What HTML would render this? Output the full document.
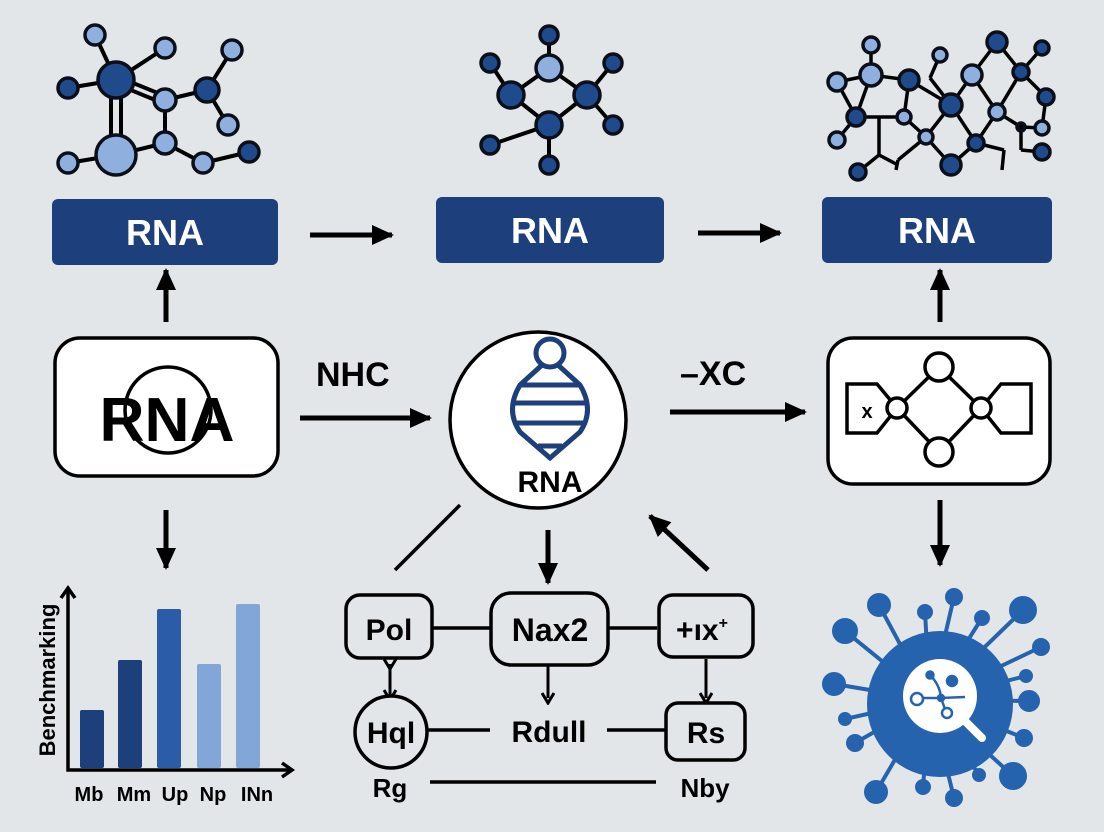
<!DOCTYPE html>
<html><head><meta charset="utf-8"><style>
html,body{margin:0;padding:0;background:#e3e6e9;}
svg{display:block;font-family:"Liberation Sans","DejaVu Sans",sans-serif;}
</style></head><body>
<svg width="1104" height="832" viewBox="0 0 1104 832" xmlns="http://www.w3.org/2000/svg">
<defs>
<marker id="ah" markerWidth="22" markerHeight="22" refX="20" refY="11" orient="auto" markerUnits="userSpaceOnUse" viewBox="0 0 22 22">
<path d="M0,1 L22,11 L0,21 z" fill="#000"/></marker>
<marker id="ah2" markerWidth="14" markerHeight="14" refX="7" refY="7" orient="auto" markerUnits="userSpaceOnUse" viewBox="0 0 14 14">
<path d="M2,1 L12,7 L2,13" fill="none" stroke="#000" stroke-width="3"/></marker>
</defs>
<rect width="1104" height="832" fill="#e3e6e9"/>

<!-- Left molecule -->
<g stroke="#000" stroke-width="4" fill="none">
<line x1="95" y1="35" x2="116" y2="80"/><line x1="165" y1="48" x2="116" y2="80"/><line x1="68" y1="88" x2="116" y2="80"/>
<line x1="116" y1="76" x2="165" y2="96"/><line x1="116" y1="84" x2="165" y2="104"/>
<line x1="111" y1="80" x2="111" y2="155"/><line x1="121" y1="80" x2="121" y2="155"/>
<line x1="165" y1="100" x2="207" y2="90"/><line x1="207" y1="90" x2="232" y2="50"/><line x1="207" y1="90" x2="228" y2="125"/>
<line x1="165" y1="100" x2="165" y2="143"/><line x1="165" y1="143" x2="116" y2="155"/><line x1="116" y1="155" x2="68" y2="163"/>
<line x1="165" y1="143" x2="203" y2="163"/><line x1="203" y1="163" x2="249" y2="152"/>
</g>
<g stroke="#0a0f1a" stroke-width="3.5">
<circle cx="95" cy="35" r="10" fill="#8fb0df"/><circle cx="165" cy="48" r="10" fill="#8fb0df"/><circle cx="232" cy="50" r="10" fill="#8fb0df"/>
<circle cx="116" cy="80" r="18" fill="#1f4a8c"/><circle cx="68" cy="88" r="10" fill="#1f4a8c"/>
<circle cx="165" cy="100" r="11" fill="#8fb0df"/><circle cx="207" cy="90" r="12" fill="#1f4a8c"/>
<circle cx="228" cy="125" r="10" fill="#8fb0df"/><circle cx="165" cy="143" r="11" fill="#8fb0df"/>
<circle cx="116" cy="155" r="20" fill="#8fb0df"/><circle cx="68" cy="163" r="10" fill="#8fb0df"/>
<circle cx="203" cy="163" r="10" fill="#8fb0df"/><circle cx="249" cy="152" r="10" fill="#1f4a8c"/>
</g>

<!-- Middle molecule -->
<g stroke="#000" stroke-width="4">
<line x1="549" y1="35" x2="549" y2="68"/><line x1="549" y1="68" x2="511" y2="95"/><line x1="549" y1="68" x2="587" y2="95"/>
<line x1="490" y1="63" x2="511" y2="95"/><line x1="613" y1="63" x2="587" y2="95"/><line x1="511" y1="95" x2="549" y2="125"/>
<line x1="587" y1="95" x2="549" y2="125"/><line x1="587" y1="95" x2="613" y2="125"/><line x1="549" y1="125" x2="490" y2="145"/>
<line x1="549" y1="125" x2="549" y2="165"/>
</g>
<g stroke="#0a0f1a" stroke-width="3.5" fill="#1f4a8c">
<circle cx="549" cy="35" r="9"/><circle cx="549" cy="68" r="13" fill="#8fb0df"/><circle cx="490" cy="63" r="9"/>
<circle cx="613" cy="63" r="9"/><circle cx="511" cy="95" r="13"/><circle cx="587" cy="95" r="13"/>
<circle cx="549" cy="125" r="13"/><circle cx="613" cy="125" r="9"/><circle cx="490" cy="145" r="9"/><circle cx="549" cy="165" r="9"/>
</g>

<!-- Right molecule -->
<g stroke="#000" stroke-width="3.5">
<line x1="871" y1="45" x2="871" y2="75"/><line x1="837" y1="82" x2="871" y2="75"/><line x1="871" y1="75" x2="909" y2="80"/>
<line x1="940" y1="55" x2="930" y2="78"/><line x1="909" y1="80" x2="951" y2="105"/><line x1="909" y1="80" x2="904" y2="117"/>
<line x1="930" y1="78" x2="951" y2="105"/><line x1="951" y1="105" x2="972" y2="75"/><line x1="972" y1="75" x2="997" y2="42"/>
<line x1="997" y1="42" x2="1021" y2="72"/><line x1="1021" y1="72" x2="1042" y2="48"/><line x1="1021" y1="72" x2="1046" y2="97"/>
<line x1="972" y1="75" x2="997" y2="112"/><line x1="1021" y1="72" x2="997" y2="112"/><line x1="1046" y1="97" x2="1042" y2="128"/>
<line x1="837" y1="82" x2="856" y2="117"/><line x1="871" y1="75" x2="856" y2="117"/><line x1="856" y1="117" x2="904" y2="117"/>
<line x1="856" y1="117" x2="837" y2="140"/><line x1="879" y1="117" x2="879" y2="155"/><line x1="879" y1="155" x2="858" y2="172"/>
<line x1="879" y1="155" x2="898" y2="165"/><line x1="904" y1="117" x2="926" y2="137"/><line x1="951" y1="105" x2="926" y2="137"/>
<line x1="926" y1="137" x2="951" y2="165"/><line x1="951" y1="105" x2="976" y2="143"/><line x1="997" y1="112" x2="976" y2="143"/>
<line x1="997" y1="112" x2="1021" y2="127"/><line x1="976" y1="143" x2="1004" y2="150"/><line x1="976" y1="143" x2="951" y2="165"/>
<line x1="1021" y1="127" x2="1021" y2="150"/><line x1="1021" y1="150" x2="1042" y2="152"/><line x1="1004" y1="150" x2="1002" y2="170"/>
<line x1="1021" y1="127" x2="1042" y2="128"/><line x1="926" y1="137" x2="898" y2="160"/><line x1="898" y1="160" x2="896" y2="170"/>
</g>
<g stroke="#0a0f1a" stroke-width="3.5" fill="#1f4a8c">
<circle cx="871" cy="45" r="8" fill="#8fb0df"/><circle cx="940" cy="55" r="7" fill="#8fb0df"/><circle cx="997" cy="42" r="10"/>
<circle cx="1042" cy="48" r="7"/><circle cx="837" cy="82" r="9" fill="#8fb0df"/><circle cx="871" cy="75" r="11" fill="#8fb0df"/>
<circle cx="909" cy="80" r="10"/><circle cx="972" cy="75" r="10" fill="#8fb0df"/><circle cx="1021" cy="72" r="8"/>
<circle cx="856" cy="117" r="9"/><circle cx="904" cy="117" r="7" fill="#8fb0df"/><circle cx="951" cy="105" r="11"/>
<circle cx="997" cy="112" r="8" fill="#8fb0df"/><circle cx="1046" cy="97" r="8"/><circle cx="837" cy="140" r="8" fill="#8fb0df"/>
<circle cx="926" cy="137" r="7" fill="#8fb0df"/><circle cx="976" cy="143" r="8"/><circle cx="1021" cy="127" r="4" fill="#000"/>
<circle cx="1042" cy="128" r="7" fill="#8fb0df"/><circle cx="1042" cy="152" r="8"/><circle cx="951" cy="165" r="10"/>
<circle cx="858" cy="172" r="8"/>
</g>

<!-- Top RNA boxes -->
<rect x="52" y="199" width="226" height="66" rx="6" fill="#1d3f7c"/>
<text x="165" y="245" font-size="36" font-weight="bold" fill="#fff" text-anchor="middle">RNA</text>
<rect x="436" y="197" width="228" height="66" rx="6" fill="#1d3f7c"/>
<text x="550" y="243" font-size="36" font-weight="bold" fill="#fff" text-anchor="middle">RNA</text>
<rect x="822" y="197" width="230" height="66" rx="6" fill="#1d3f7c"/>
<text x="937" y="243" font-size="36" font-weight="bold" fill="#fff" text-anchor="middle">RNA</text>

<g stroke="#000" stroke-width="5" marker-end="url(#ah)">
<line x1="310" y1="235" x2="392" y2="235"/>
<line x1="698" y1="233" x2="780" y2="233"/>
<line x1="166" y1="322" x2="166" y2="270"/>
<line x1="940" y1="322" x2="940" y2="270"/>
<line x1="300" y1="418" x2="430" y2="418"/>
<line x1="670" y1="412" x2="805" y2="412"/>
<line x1="166" y1="510" x2="166" y2="568"/>
<line x1="940" y1="500" x2="940" y2="565"/>
<line x1="548" y1="530" x2="548" y2="583"/>
<line x1="708" y1="570" x2="650" y2="516"/>
</g>

<!-- Mid-left box -->
<rect x="55" y="338" width="223" height="138" rx="25" fill="#fff" stroke="#000" stroke-width="3.5"/>
<circle cx="168" cy="410" r="43" fill="none" stroke="#000" stroke-width="3.5"/>
<text x="167" y="441" font-size="62" font-weight="bold" text-anchor="middle" textLength="135" lengthAdjust="spacingAndGlyphs">RNA</text>

<text x="316" y="386" font-size="34" font-weight="bold">NHC</text>
<text x="680" y="385" font-size="34" font-weight="bold">–XC</text>

<!-- Center circle -->
<circle cx="538" cy="420" r="88" fill="#fff" stroke="#000" stroke-width="3.5"/>
<g stroke="#1d3f7c" stroke-width="5" fill="none">
<circle cx="550" cy="353" r="14"/>
<path d="M542,365 L520,385 Q505,410 520,432 L550,458 L580,432 Q595,410 580,385 L558,365"/>
<line x1="520" y1="385" x2="580" y2="385"/>
<line x1="515" y1="403" x2="585" y2="403"/>
<line x1="517" y1="423" x2="583" y2="423"/>
<line x1="538" y1="446" x2="562" y2="446"/>
</g>
<text x="550" y="492" font-size="30" font-weight="bold" text-anchor="middle">RNA</text>

<!-- Mid-right box -->
<rect x="828" y="338" width="222" height="146" rx="25" fill="#fff" stroke="#000" stroke-width="3.5"/>
<g stroke="#000" stroke-width="3.5" fill="#fff">
<path d="M847,384 L877,384 L897,408 L877,433 L847,433 z"/>
<path d="M1031,384 L1001,384 L981,408 L1001,433 L1031,433 z"/>
<line x1="897" y1="408" x2="939" y2="367"/><line x1="939" y1="367" x2="981" y2="408"/>
<line x1="897" y1="408" x2="939" y2="452"/><line x1="939" y1="452" x2="981" y2="408"/>
<circle cx="939" cy="367" r="14"/><circle cx="939" cy="452" r="14"/>
<circle cx="897" cy="408" r="10"/><circle cx="981" cy="408" r="10"/>
</g>
<text x="867" y="418" font-size="20" font-weight="bold" text-anchor="middle">x</text>

<!-- Bottom middle network -->
<g stroke="#000" stroke-width="3.5" fill="none">
<line x1="460" y1="505" x2="395" y2="570"/>
<line x1="432" y1="628" x2="490" y2="628"/>
<line x1="608" y1="628" x2="657" y2="628"/>
<line x1="428" y1="730" x2="490" y2="730"/>
<line x1="607" y1="730" x2="666" y2="730"/>
<line x1="430" y1="782" x2="656" y2="782"/>
</g>
<g stroke="#000" stroke-width="3" fill="none">
<line x1="390" y1="664" x2="390" y2="695" marker-end="url(#ah2)" marker-start="url(#ah2)"/>
<line x1="548" y1="666" x2="548" y2="698" marker-end="url(#ah2)"/>
<line x1="706" y1="659" x2="706" y2="698" marker-end="url(#ah2)"/>
</g>
<g fill="#e3e6e9" stroke="#000" stroke-width="3.5">
<rect x="346" y="595" width="86" height="63" rx="14"/>
<rect x="491" y="593" width="117" height="72" rx="20"/>
<rect x="659" y="595" width="94" height="62" rx="14"/>
<circle cx="391" cy="732" r="36"/>
<rect x="666" y="703" width="79" height="57" rx="12"/>
</g>
<g font-weight="bold" text-anchor="middle" fill="#000">
<text x="389" y="640" font-size="30">Pol</text>
<text x="550" y="641" font-size="32">Nax2</text>
<text x="702" y="640" font-size="30">+ıx<tspan font-size="16" dy="-12">+</tspan></text>
<text x="391" y="743" font-size="30">Hql</text>
<text x="549" y="742" font-size="30">Rdull</text>
<text x="706" y="743" font-size="30">Rs</text>
<text x="390" y="797" font-size="26">Rg</text>
<text x="705" y="797" font-size="26">Nby</text>
</g>

<!-- Chart -->
<rect x="80" y="710" width="24" height="58" rx="2" fill="#1d3f7c"/>
<rect x="118" y="660" width="24" height="108" rx="2" fill="#1d3f7c"/>
<rect x="157" y="609" width="24" height="159" rx="2" fill="#2a5ca8"/>
<rect x="197" y="664" width="24" height="104" rx="2" fill="#82a6d8"/>
<rect x="236" y="604" width="24" height="164" rx="2" fill="#82a6d8"/>
<g stroke="#000" stroke-width="3.5" fill="none">
<polyline points="68,590 68,770 290,770"/>
<polyline points="61,598 68,588 75,598"/>
<polyline points="282,763 292,770 282,777"/>
</g>
<text transform="translate(55,680) rotate(-90)" font-size="22" font-weight="bold" text-anchor="middle">Benchmarking</text>
<g font-size="20" font-weight="bold" text-anchor="middle">
<text x="89" y="801">Mb</text><text x="134" y="801">Mm</text><text x="175" y="801">Up</text>
<text x="213" y="801">Np</text><text x="257" y="801">INn</text>
</g>

<!-- Virus -->
<g stroke="#2563ae" stroke-width="4" fill="#2563ae">
<line x1="930" y1="700" x2="879" y2="605"/><circle cx="879" cy="605" r="10"/>
<line x1="930" y1="700" x2="845" y2="631"/><circle cx="845" cy="631" r="11"/>
<line x1="930" y1="700" x2="925" y2="612"/><circle cx="925" cy="612" r="6"/>
<line x1="930" y1="700" x2="954" y2="597"/><circle cx="954" cy="597" r="7"/>
<line x1="930" y1="700" x2="982" y2="618"/><circle cx="982" cy="618" r="6"/>
<line x1="930" y1="700" x2="1023" y2="610"/><circle cx="1023" cy="610" r="12"/>
<line x1="930" y1="700" x2="1041" y2="647"/><circle cx="1041" cy="647" r="7"/>
<line x1="930" y1="700" x2="1026" y2="676"/><circle cx="1026" cy="676" r="5"/>
<line x1="930" y1="700" x2="1029" y2="701"/><circle cx="1029" cy="701" r="9"/>
<line x1="930" y1="700" x2="1024" y2="738"/><circle cx="1024" cy="738" r="7"/>
<line x1="930" y1="700" x2="1013" y2="776"/><circle cx="1013" cy="776" r="12"/>
<line x1="930" y1="700" x2="979" y2="775"/><circle cx="979" cy="775" r="5"/>
<line x1="930" y1="700" x2="954" y2="798"/><circle cx="954" cy="798" r="7"/>
<line x1="930" y1="700" x2="923" y2="787"/><circle cx="923" cy="787" r="6"/>
<line x1="930" y1="700" x2="876" y2="792"/><circle cx="876" cy="792" r="10"/>
<line x1="930" y1="700" x2="855" y2="743"/><circle cx="855" cy="743" r="7"/>
<line x1="930" y1="700" x2="845" y2="719"/><circle cx="845" cy="719" r="5"/>
<line x1="930" y1="700" x2="834" y2="684"/><circle cx="834" cy="684" r="10"/>
</g>
<circle cx="940" cy="704" r="73" fill="#2563ae"/>
<circle cx="940" cy="696" r="37" fill="#fff"/>
<line x1="966" y1="722" x2="982" y2="738" stroke="#fff" stroke-width="8" stroke-linecap="round"/>
<g stroke="#2563ae" stroke-width="2.5" fill="none">
<path d="M930,675 Q940,685 941,698 L965,697"/>
<path d="M918,698 L941,698 L946,712"/>
</g>
<g fill="#2563ae" stroke="#2563ae" stroke-width="2.5">
<circle cx="930" cy="675" r="3.5"/><circle cx="952" cy="681" r="5"/><circle cx="941" cy="698" r="3"/>
<circle cx="917" cy="699" r="6" fill="#fff"/><circle cx="947" cy="713" r="5" fill="#fff"/>
</g>
</svg>
</body></html>
